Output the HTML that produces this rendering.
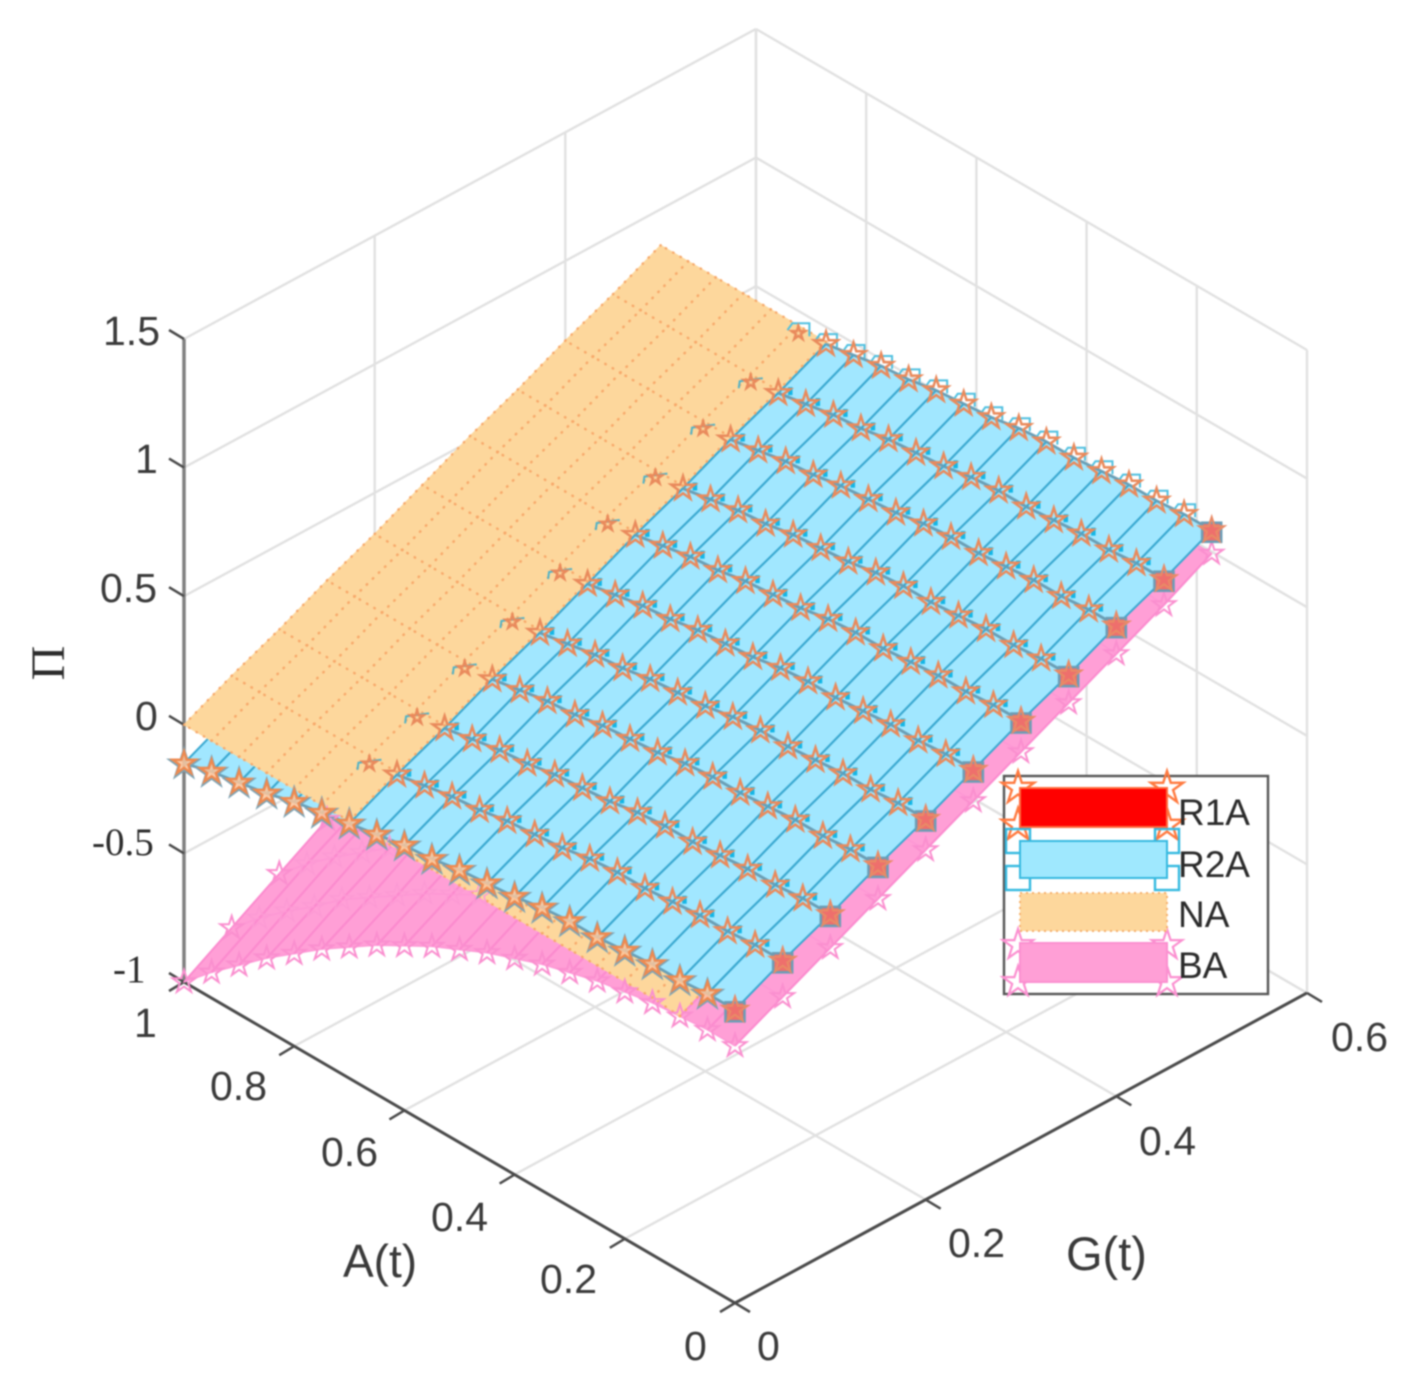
<!DOCTYPE html>
<html lang="en">
<head>
<meta charset="utf-8">
<title>3D surface chart of payoff against A(t) and G(t)</title>
<style>
html,body{margin:0;padding:0;background:#fff;}
#chart{display:block;filter:blur(0.7px);}
.sans{font-family:"Liberation Sans",sans-serif;fill:#3a3a3a;}
.serif{font-family:"Liberation Serif",serif;fill:#2c2c2c;}
.legend-text{fill:#2a2a2a;}
</style>
</head>
<body>
<svg id="chart" xmlns="http://www.w3.org/2000/svg" width="1410" height="1386" viewBox="0 0 1410 1386">
  <rect width="1410" height="1386" fill="#fff"/>
  <g id="grid"></g>
  <g id="axes"></g>
  <g id="surfaces"></g>
  <g id="markers"></g>

  <g>
    <text class="sans" x="103" y="345" font-size="41">1.5</text>
    <text class="sans" x="135" y="473" font-size="41">1</text>
    <text class="sans" x="100" y="602" font-size="41">0.5</text>
    <text class="sans" x="135" y="730" font-size="41">0</text>
    <text class="serif" x="92" y="855" font-size="39">-0.5</text>
    <text class="serif" x="113" y="982" font-size="39">-1</text>
  </g>
  <g>
    <text class="sans" x="134" y="1037" font-size="41">1</text>
    <text class="sans" x="210" y="1100" font-size="41">0.8</text>
    <text class="sans" x="321" y="1166" font-size="41">0.6</text>
    <text class="sans" x="431" y="1231" font-size="41">0.4</text>
    <text class="sans" x="540" y="1293" font-size="41">0.2</text>
    <text class="sans" x="684" y="1360" font-size="41">0</text>
  </g>
  <g>
    <text class="sans" x="757" y="1360" font-size="41">0</text>
    <text class="sans" x="948" y="1257" font-size="41">0.2</text>
    <text class="sans" x="1139" y="1155" font-size="41">0.4</text>
    <text class="sans" x="1331" y="1051" font-size="41">0.6</text>
  </g>
  <text class="sans" x="343" y="1277" font-size="46">A(t)</text>
  <text class="sans" x="1066" y="1270" font-size="47">G(t)</text>
  <text class="serif" transform="translate(64,663) rotate(-90)" text-anchor="middle" font-size="48">Π</text>

  <g id="legend">
    <rect x="1004" y="776" width="264" height="218" fill="#fff" stroke="#555" stroke-width="2.4"/>
    <g id="legendMarks"></g>
    <rect x="1020" y="788" width="147" height="39" fill="#ff0000" stroke="#ff6a3c" stroke-width="2"/>
    <rect x="1020" y="841" width="147" height="37" fill="#9fe8fe" stroke="#35b9e0" stroke-width="2"/>
    <rect x="1020" y="893" width="147" height="38" fill="#fdd79c" stroke="#f5ae6a" stroke-width="2" stroke-dasharray="2 4"/>
    <rect x="1020" y="943" width="147" height="39" fill="#ff9fd6" stroke="#fb8fd0" stroke-width="2"/>
    <text class="sans legend-text" x="1178" y="825" font-size="37">R1A</text>
    <text class="sans legend-text" x="1178" y="877" font-size="37">R2A</text>
    <text class="sans legend-text" x="1178" y="927" font-size="37">NA</text>
    <text class="sans legend-text" x="1178" y="978" font-size="37">BA</text>
  </g>
</svg>

<script>
// Grid categories
const aValues = [0,.05,.1,.15,.2,.25,.3,.35,.4,.45,.5,.55,.6,.65,.7,.75,.8,.85,.9,.95,1];
const gValues = [0,.05,.1,.15,.2,.25,.3,.35,.4,.45,.5];
// Axis ticks
const aTicks = [0,.2,.4,.6,.8,1];
const gTicks = [0,.2,.4,.6];
const zTicks = [-1,-.5,0,.5,1,1.5];
// Series values: one row per G(t), one column per A(t); null = no surface there
const r1aValues = [
[.14,.14,.13,.13,.12,.11,.11,.10,.08,.07,.06,.04,.03,.01,-.01,-.03,-.05,-.08,-.10,-.12,-.15],
[.23,.23,.22,.22,.21,.20,.20,.19,.17,.16,.15,.13,.12,.10,.08,.06,.04,.01,-.01,-.03,-.06],
[.31,.31,.30,.30,.29,.28,.28,.27,.25,.24,.23,.21,.20,.18,.16,.14,.12,.09,.07,.05,.02],
[.40,.40,.39,.39,.38,.37,.37,.36,.34,.33,.32,.30,.29,.27,.25,.23,.21,.18,.16,.14,.11],
[.48,.48,.47,.47,.46,.45,.45,.44,.42,.41,.40,.38,.37,.35,.33,.31,.29,.26,.24,.22,.19],
[.57,.57,.56,.56,.55,.54,.54,.53,.51,.50,.49,.47,.46,.44,.42,.40,.38,.35,.33,.31,.28],
[.66,.66,.65,.65,.64,.63,.63,.62,.60,.59,.58,.56,.55,.53,.51,.49,.47,.44,.42,.40,.37],
[.74,.74,.73,.73,.72,.71,.71,.70,.68,.67,.66,.64,.63,.61,.59,.57,.55,.52,.50,.48,.45],
[.83,.83,.82,.82,.81,.80,.80,.79,.77,.76,.75,.73,.72,.70,.68,.66,.64,.61,.59,.57,.54],
[.91,.91,.90,.90,.89,.88,.88,.87,.85,.84,.83,.81,.80,.78,.76,.74,.72,.69,.67,.65,.62],
[1,1,.99,.99,.98,.97,.97,.96,.94,.93,.92,.90,.89,.87,.85,.83,.81,.78,.76,.74,.71]
];
const r2aValues = [
[.14,.14,.13,.13,.12,.11,.11,.10,.08,.07,.06,.04,.03,.01,-.01,-.03,-.05,-.08,-.10,-.12,-.15],
[.23,.23,.22,.22,.21,.20,.20,.19,.17,.16,.15,.13,.12,.10,.08,.06,.04,.01,-.01,-.03,-.06],
[.31,.31,.30,.30,.29,.28,.28,.27,.25,.24,.23,.21,.20,.18,.16,.14,.12,.09,.07,.05,.02],
[.40,.40,.39,.39,.38,.37,.37,.36,.34,.33,.32,.30,.29,.27,.25,.23,.21,.18,.16,.14,.11],
[.48,.48,.47,.47,.46,.45,.45,.44,.42,.41,.40,.38,.37,.35,.33,.31,.29,.26,.24,.22,.19],
[.57,.57,.56,.56,.55,.54,.54,.53,.51,.50,.49,.47,.46,.44,.42,.40,.38,.35,.33,.31,.28],
[.66,.66,.65,.65,.64,.63,.63,.62,.60,.59,.58,.56,.55,.53,.51,.49,.47,.44,.42,.40,.37],
[.74,.74,.73,.73,.72,.71,.71,.70,.68,.67,.66,.64,.63,.61,.59,.57,.55,.52,.50,.48,.45],
[.83,.83,.82,.82,.81,.80,.80,.79,.77,.76,.75,.73,.72,.70,.68,.66,.64,.61,.59,.57,.54],
[.91,.91,.90,.90,.89,.88,.88,.87,.85,.84,.83,.81,.80,.78,.76,.74,.72,.69,.67,.65,.62],
[1,1,.99,.99,.98,.97,.97,.96,.94,.93,.92,.90,.89,.87,.85,.83,.81,.78,.76,.74,.71]
];
const naValues = [
[null,null,-.01,0,0,0,0,0,0,0,0,0,0,0,0,0,0,0,0,0,0],
[null,null,.09,.09,.09,.09,.09,.09,.09,.09,.09,.09,.09,.09,.09,.09,.09,.09,.09,.09,.09],
[null,null,.17,.17,.17,.17,.17,.17,.17,.17,.17,.17,.17,.17,.17,.17,.17,.17,.17,.17,.17],
[null,null,.26,.26,.26,.26,.26,.26,.26,.26,.26,.26,.26,.26,.26,.26,.26,.26,.26,.26,.26],
[null,null,.34,.34,.34,.34,.34,.34,.34,.34,.34,.34,.34,.34,.34,.34,.34,.34,.34,.34,.34],
[null,null,.43,.43,.43,.43,.43,.43,.43,.43,.43,.43,.43,.43,.43,.43,.43,.43,.43,.43,.43],
[null,null,.52,.52,.52,.52,.52,.52,.52,.52,.52,.52,.52,.52,.52,.52,.52,.52,.52,.52,.52],
[null,null,.60,.60,.60,.60,.60,.60,.60,.60,.60,.60,.60,.60,.60,.60,.60,.60,.60,.60,.60],
[null,null,.69,.69,.69,.69,.69,.69,.69,.69,.69,.69,.69,.69,.69,.69,.69,.69,.69,.69,.69],
[null,null,.77,.77,.77,.77,.77,.77,.77,.77,.77,.77,.77,.77,.77,.77,.77,.77,.77,.77,.77],
[null,null,.86,.86,.86,.86,.86,.86,.86,.86,.86,.86,.86,.86,.86,.86,.86,.86,.86,.86,.86]
];
const baValues = [
[0,0,-.01,-.02,-.04,-.06,-.09,-.12,-.16,-.20,-.25,-.30,-.36,-.42,-.49,-.56,-.64,-.72,-.81,-.90,-1],
[.09,.09,.08,.07,.05,.03,.01,-.03,-.06,-.10,-.15,-.20,-.26,-.32,-.39,-.46,-.53,-.62,-.70,-.79,-.89],
[.18,.18,.17,.16,.15,.13,.10,.07,.04,0,-.05,-.10,-.16,-.22,-.28,-.35,-.43,-.51,-.59,-.68,-.78],
[.27,.27,.27,.26,.24,.22,.20,.17,.13,.09,.05,0,-.05,-.11,-.18,-.25,-.32,-.40,-.49,-.58,-.67],
[.36,.36,.36,.35,.34,.32,.29,.27,.23,.19,.15,.10,.05,-.01,-.07,-.14,-.22,-.29,-.38,-.47,-.56],
[.45,.45,.45,.44,.43,.41,.39,.36,.33,.29,.25,.20,.15,.09,.03,-.04,-.11,-.19,-.27,-.36,-.45],
[.54,.54,.54,.54,.52,.51,.49,.46,.43,.39,.35,.30,.25,.20,.13,.07,0,-.08,-.16,-.25,-.34],
[.63,.63,.63,.63,.62,.60,.58,.56,.53,.49,.45,.40,.35,.30,.24,.17,.10,.03,-.05,-.14,-.23],
[.72,.73,.73,.72,.71,.70,.68,.65,.62,.59,.55,.51,.46,.40,.34,.28,.21,.13,.05,-.03,-.12],
[.81,.82,.82,.81,.81,.79,.77,.75,.72,.69,.65,.61,.56,.50,.45,.38,.31,.24,.16,.08,-.01],
[.91,.91,.92,.91,.91,.89,.88,.85,.83,.79,.76,.71,.67,.61,.56,.49,.43,.35,.28,.19,.11]
];

const NS = 'http://www.w3.org/2000/svg';
function make(tag, name, parent) {
  const el = document.createElementNS(NS, tag);
  
  
  parent.appendChild(el);
  return el;
}
// Axis functions: data space to screen
function px(a, g) { return 735 + 953.3 * g - 551 * a; }
function py(a, g, z) { return 1303 - 321 * a - 516.7 * g - 257.2 * (z + 1); }
function line(parent, name, a1, g1, z1, a2, g2, z2, color, width) {
  const l = make('line', name, parent);
  l.setAttribute('x1', px(a1, g1));
  l.setAttribute('y1', py(a1, g1, z1));
  l.setAttribute('x2', px(a2, g2));
  l.setAttribute('y2', py(a2, g2, z2));
  l.setAttribute('stroke', color);
  l.setAttribute('stroke-width', width);
  return l;
}

// Grid
const gridG = document.getElementById('grid');
const gridColor = '#e1e1e1';
aTicks.forEach(function (a) {
  line(gridG, 'floor-grid-a', a, 0, -1, a, .6, -1, gridColor, 2.4);
  line(gridG, 'wall-grid-a', a, .6, -1, a, .6, 1.5, gridColor, 2.4);
});
gTicks.forEach(function (g) {
  line(gridG, 'floor-grid-g', 0, g, -1, 1, g, -1, gridColor, 2.4);
  line(gridG, 'wall-grid-g', 1, g, -1, 1, g, 1.5, gridColor, 2.4);
});
zTicks.forEach(function (z) {
  line(gridG, 'wall-grid-z-left', 1, 0, z, 1, .6, z, gridColor, 2.4);
  line(gridG, 'wall-grid-z-right', 0, .6, z, 1, .6, z, gridColor, 2.4);
});

// Axes and ticks
const axesG = document.getElementById('axes');
line(axesG, 'a-axis-line', 0, 0, -1, 1, 0, -1, '#4a4a4a', 3);
line(axesG, 'g-axis-line', 0, 0, -1, 0, .6, -1, '#4a4a4a', 3);
line(axesG, 'z-axis-line', 1, 0, -1, 1, 0, 1.5, '#808080', 3.5);
aTicks.forEach(function (a) {
  const t = line(axesG, 'a-axis-tick', a, 0, -1, a, 0, -1, '#4a4a4a', 2.5);
  t.setAttribute('x2', px(a, 0) - 15);
  t.setAttribute('y2', py(a, 0, -1) + 9);
});
gTicks.forEach(function (g) {
  const t = line(axesG, 'g-axis-tick', 0, g, -1, 0, g, -1, '#4a4a4a', 2.5);
  t.setAttribute('x2', px(0, g) + 15);
  t.setAttribute('y2', py(0, g, -1) + 9);
});
zTicks.forEach(function (z) {
  const t = line(axesG, 'z-axis-tick', 1, 0, z, 1, 0, z, '#4a4a4a', 2.5);
  t.setAttribute('x2', px(1, 0) - 15);
  t.setAttribute('y2', py(1, 0, z) - 9);
});

// Surfaces layered per grid cell, lowest to highest
const styles = {
  r1a: { data: r1aValues, fill: '#ff0000', order: 0 },
  ba:  { data: baValues,  fill: '#ff9fd6', order: 1 },
  na:  { data: naValues,  fill: '#fdd79c', order: 2 },
  r2a: { data: r2aValues, fill: '#a1e7ff', order: 3 }
};
const seriesKeys = ['r1a', 'ba', 'na', 'r2a'];
function cellMean(d, i, j) {
  return (d[j][i] + d[j][i + 1] + d[j + 1][i] + d[j + 1][i + 1]) / 4;
}
function cellExists(d, i, j) {
  return d[j][i] !== null && d[j][i + 1] !== null && d[j + 1][i] !== null && d[j + 1][i + 1] !== null;
}
const layers = [[], [], [], []];
for (let j = 0; j < gValues.length - 1; j++) {
  for (let i = 0; i < aValues.length - 1; i++) {
    const ranked = seriesKeys.filter(function (k) {
      return cellExists(styles[k].data, i, j);
    }).sort(function (p, q) {
      const dz = cellMean(styles[p].data, i, j) - cellMean(styles[q].data, i, j);
      return Math.abs(dz) > 1e-6 ? dz : styles[p].order - styles[q].order;
    });
    ranked.forEach(function (k, r) {
      layers[r + 4 - ranked.length].push({ key: k, i: i, j: j });
    });
  }
}
function edge(parent, key, i1, j1, i2, j2, dirG) {
  const d = styles[key].data;
  const l = line(parent, key + '-mesh-line', aValues[i1], gValues[j1], d[j1][i1], aValues[i2], gValues[j2], d[j2][i2], '#000', 1);
  if (key === 'r2a') {
    l.setAttribute('stroke', dirG ? '#3aa8d0' : '#6a9fb6');
    l.setAttribute('stroke-width', dirG ? 2 : 2.8);
  } else if (key === 'na') {
    l.setAttribute('stroke', '#f7a96b');
    l.setAttribute('stroke-width', 2.4);
    l.setAttribute('stroke-dasharray', '0.5 8');
    l.setAttribute('stroke-linecap', 'round');
  } else if (key === 'ba') {
    l.setAttribute('stroke', dirG ? '#fb8ace' : '#fd98d5');
    l.setAttribute('stroke-width', dirG ? 2 : 1.5);
  } else {
    l.setAttribute('stroke', 'none');
  }
}
const surfG = document.getElementById('surfaces');
layers.forEach(function (layer, r) {
  const g = make('g', 'surface-layer-' + r, surfG);
  layer.forEach(function (c) {
    const d = styles[c.key].data;
    const p = make('polygon', c.key + '-surface-cell', g);
    const pts = [[c.i, c.j], [c.i + 1, c.j], [c.i + 1, c.j + 1], [c.i, c.j + 1]].map(function (q) {
      return px(aValues[q[0]], gValues[q[1]]) + ',' + py(aValues[q[0]], gValues[q[1]], d[q[1]][q[0]]);
    }).join(' ');
    p.setAttribute('points', pts);
    p.setAttribute('fill', styles[c.key].fill);
    p.setAttribute('stroke', styles[c.key].fill);
    p.setAttribute('stroke-width', 1);
  });
  layer.forEach(function (c) {
    edge(g, c.key, c.i, c.j, c.i, c.j + 1, true);
    edge(g, c.key, c.i + 1, c.j, c.i + 1, c.j + 1, true);
    edge(g, c.key, c.i, c.j, c.i + 1, c.j, false);
    edge(g, c.key, c.i, c.j + 1, c.i + 1, c.j + 1, false);
  });
});

// Marker visibility: a point is hidden if its view ray crosses a higher surface
function bilinear(d, a, g) {
  const fi = Math.min(a / .05, 19.9999), fj = Math.min(g / .05, 9.9999);
  const i = Math.floor(fi), j = Math.floor(fj), u = fi - i, v = fj - j;
  if (!cellExists(d, i, j)) return null;
  return (d[j][i] * (1 - u) + d[j][i + 1] * u) * (1 - v) + (d[j + 1][i] * (1 - u) + d[j + 1][i + 1] * u) * v;
}
function occluded(key, i, j, tol) {
  const a = aValues[i], g = gValues[j], z = styles[key].data[j][i];
  for (let n = 0; n < seriesKeys.length; n++) {
    const k = seriesKeys[n];
    if (k === key) continue;
    if ((key === 'r1a' || key === 'r2a') && (k === 'r1a' || k === 'r2a')) continue;
    const d = styles[k].data;
    const start = bilinear(d, a, g);
    if (start === null || start - z <= tol) continue;
    for (let s = .004; s < 1; s += .004) {
      const a2 = a - s, g2 = g - .579 * s;
      if (a2 < 0 || g2 < 0) break;
      const surf = bilinear(d, a2, g2);
      if (surf === null) break;
      if (z + 2.41 * s >= surf) return true;
    }
  }
  return false;
}
function starPoints(x, y, R) {
  const pts = [];
  for (let n = 0; n < 10; n++) {
    const r = n % 2 ? R * .38 : R;
    const t = -Math.PI / 2 + n * Math.PI / 5;
    pts.push((x + r * Math.cos(t)).toFixed(1) + ',' + (y + r * Math.sin(t)).toFixed(1));
  }
  return pts.join(' ');
}
function star(parent, name, x, y, R, color, width, fill, fillOpacity) {
  const s = make('polygon', name, parent);
  s.setAttribute('points', starPoints(x, y, R));
  s.setAttribute('fill', fill || 'none');
  if (fill) s.setAttribute('fill-opacity', fillOpacity);
  s.setAttribute('stroke', color);
  s.setAttribute('stroke-width', width);
  return s;
}
function square(parent, name, x, y, size, color, width, fill) {
  const s = make('rect', name, parent);
  s.setAttribute('x', x - size / 2);
  s.setAttribute('y', y - size / 2);
  s.setAttribute('width', size);
  s.setAttribute('height', size);
  s.setAttribute('fill', fill || 'none');
  s.setAttribute('stroke', color);
  s.setAttribute('stroke-width', width);
  return s;
}
function stub(parent, name, points, color, width) {
  const b = make('polyline', name, parent);
  b.setAttribute('points', points);
  b.setAttribute('fill', 'none');
  b.setAttribute('stroke', color);
  b.setAttribute('stroke-width', width);
  return b;
}
const markG = document.getElementById('markers');
// BA stars: edge points stand out, interior points stay faint
const baMarks = make('g', 'ba-markers', markG);
baValues.forEach(function (row, j) {
  row.forEach(function (z, i) {
    if (occluded('ba', i, j, 0)) return;
    const onEdge = i === 0 || j === 0 || i === 20;
    star(baMarks, 'ba-marker', px(aValues[i], gValues[j]), py(aValues[i], gValues[j], z), 12, onEdge ? '#fa8fcf' : '#fc9ad4', onEdge ? 2 : 1.5);
  });
});
// R2A squares
const r2aMarks = make('g', 'r2a-markers', markG);
r2aValues.forEach(function (row, j) {
  row.forEach(function (z, i) {
    if (occluded('r2a', i, j, .04)) return;
    const x = px(aValues[i], gValues[j]), y = py(aValues[i], gValues[j], z);
    const buried = z < naValues[j][i] - .02;
    if (i === 0) {
      square(r2aMarks, 'r2a-marker', x, y + 2, 19, '#6d9db5', 2.6, '#ee6f6c');
    } else if (j === 0) {
      star(r2aMarks, 'r2a-marker', x, y + 1, 14, '#7fa3b3', 3);
    } else if (j === 10) {
      stub(r2aMarks, 'r2a-marker', (x - 11) + ',' + (y - 3) + ' ' + (x - 6) + ',' + (y - 10) + ' ' + (x + 11) + ',' + (y - 10) + ' ' + (x + 11) + ',' + (y + 3), '#4fc0e0', 2);
    } else if (buried) {
      stub(r2aMarks, 'r2a-marker-fragment', (x - 12) + ',' + (y + 6) + ' ' + (x - 11) + ',' + (y - 1) + ' ' + (x + 12) + ',' + (y - 4), '#4fb2c8', 2);
    } else {
      stub(r2aMarks, 'r2a-marker', (x + 12) + ',' + (y - 6) + ' ' + (x + 12) + ',' + (y + 2), '#14b6e6', 4.5);
    }
  });
});
// R1A stars
const r1aMarks = make('g', 'r1a-markers', markG);
r1aValues.forEach(function (row, j) {
  row.forEach(function (z, i) {
    if (occluded('r1a', i, j, .04)) return;
    const x = px(aValues[i], gValues[j]), y = py(aValues[i], gValues[j], z);
    const buried = z < naValues[j][i] - .02;
    if (i === 0) star(r1aMarks, 'r1a-marker', x, y, 13, '#e88a66', 2.2);
    else if (j === 0) star(r1aMarks, 'r1a-marker', x, y, 12, '#ee8a50', 2.4, '#fbc49a', .85);
    else star(r1aMarks, 'r1a-marker', x, y, buried ? 7 : 12.5, '#e98a5c', 2.5);
  });
});

// Legend markers
const lm = document.getElementById('legendMarks');
[[1018, 788], [1167, 788], [1018, 825], [1167, 825]].forEach(function (p) {
  star(lm, 'legend-marker-r1a', p[0], p[1], 17, '#ff7a40', 2.4);
});
[[1018, 841], [1167, 841], [1018, 878], [1167, 878]].forEach(function (p) {
  square(lm, 'legend-marker-r2a', p[0], p[1], 24, '#35b9e0', 2.4);
});
[[1018, 945], [1167, 945], [1018, 982], [1167, 982]].forEach(function (p) {
  star(lm, 'legend-marker-ba', p[0], p[1], 16, '#fb8fd0', 2.2);
});
</script>
</body>
</html>
